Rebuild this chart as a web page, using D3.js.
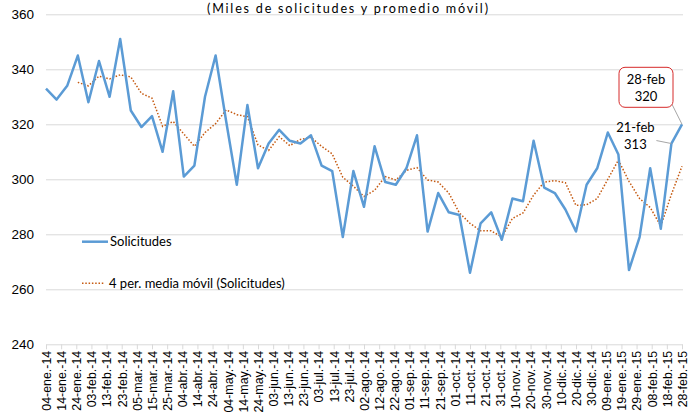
<!DOCTYPE html>
<head>
<meta charset="utf-8">
<script src="https://d3js.org/d3.v7.min.js"></script>
<style>
body {
  margin: 0;
  background: #fff;
}
svg {
  font-family: Lato, "Liberation Sans", sans-serif;
}
.grid--y path,
.grid--y text {
  display: none;
}
.grid--y line {
  stroke: #d9d9d9;
}
.axis--y path {
  display: none;
}
.axis--y text {
  font-size: 13.5px;
  fill: #000;
}
.axis--x path,
.axis--x line {
  stroke: #d9d9d9;
}
.axis--x text {
  font-size: 12.4px;
  fill: #000;
}
.line--sol {
  fill: none;
  stroke: #5b9bd5;
  stroke-width: 2.5;
  stroke-linejoin: round;
}
.line--ma {
  fill: none;
  stroke: #c55a11;
  stroke-width: 1.5;
  stroke-dasharray: 1.5,1.8;
}
.lbl {
  font-size: 13px;
  fill: #000;
}
</style>
</head>
<body>
<div id="chart"></div>
<script>

// weekly data, first week 04-ene-14
let startDate = new Date(2014, 0, 4);
let solicitudes = [333, 329, 334, 345, 328, 343, 330, 351, 325, 319, 323, 310, 332, 301, 305, 330,
  345, 321, 298, 327, 304, 313, 318, 314, 313, 316, 305, 303, 279, 303, 290, 312, 299, 298, 304, 316,
  281, 295, 288, 287, 266, 284, 288, 278, 293, 292, 314, 297, 295, 289, 281, 298, 304, 317, 309, 267,
  279, 304, 282, 313, 320];
let maPeriod = 4;
let meses = ["ene", "feb", "mar", "abr", "may", "jun", "jul", "ago", "sep", "oct", "nov", "dic"];
let yTicks = [240, 260, 280, 300, 320, 340, 360];
let tickStepDays = 10;
let labelled = [59, 60]; // 21-feb and 28-feb
let titulo = "(Miles de solicitudes y promedio móvil)";
let legendNames = ["Solicitudes", "4 per. media móvil (Solicitudes)"];

let data = solicitudes.map(function(v, i) {
  return {date: d3.timeDay.offset(startDate, 7 * i), value: v, i: i};
});
let endDate = data[data.length - 1].date;

// 4 period moving average (Excel trendline)
let ma = data.slice(maPeriod - 1).map(function(d) {
  return {date: d.date, value: d3.mean(solicitudes.slice(d.i - maPeriod + 1, d.i + 1))};
});

let tickDates = d3.range(0, d3.timeDay.count(startDate, endDate) + 1, tickStepDays)
  .map(function(n) { return d3.timeDay.offset(startDate, n); });

let fmtTick = function(d) {
  return d3.timeFormat("%d")(d) + "-" + meses[d.getMonth()] + ".-" + d3.timeFormat("%y")(d);
};
let fmtLabel = function(d) {
  return d3.timeFormat("%d")(d) + "-" + meses[d.getMonth()];
};

let margin = {top: 14.3, right: 17, bottom: 67.7, left: 46},
    width = 699 - margin.left - margin.right,
    height = 412 - margin.top - margin.bottom;

let svg = d3.select("#chart").append("svg")
    .attr("width", 699)
    .attr("height", 412);

let g = svg.append("g")
    .attr("transform", "translate(" + margin.left + "," + margin.top + ")");

let x = d3.scaleTime().domain([startDate, endDate]).range([0, width]),
    y = d3.scaleLinear().domain([240, 360]).range([height, 0]);

g.append("g")
    .attr("class", "grid--y")
    .call(d3.axisLeft(y).tickValues(yTicks.slice(1)).tickSize(-width - 1));

g.append("g")
    .attr("class", "axis--y")
    .call(d3.axisLeft(y).tickValues(yTicks).tickSize(0).tickPadding(12));

g.append("g")
    .attr("class", "axis--x")
    .attr("transform", "translate(0," + height + ")")
    .call(d3.axisBottom(x).tickValues(tickDates).tickFormat(fmtTick).tickSize(5).tickSizeOuter(0))
  .selectAll("text")
    .attr("transform", "rotate(-90)")
    .attr("text-anchor", "end")
    .attr("x", -6.5)
    .attr("y", 0)
    .attr("dy", "0.35em");

// title, right at the top edge
svg.append("text")
    .attr("x", 347.5)
    .attr("y", 12.6)
    .attr("text-anchor", "middle")
    .attr("textLength", 281)
    .attr("lengthAdjust", "spacing")
    .style("font-size", "12.6px")
    .text(titulo);

let lineGen = d3.line()
    .x(function(d) { return x(d.date); })
    .y(function(d) { return y(d.value); });

g.append("path")
    .datum(ma)
    .attr("class", "line--ma")
    .attr("d", lineGen);

g.append("path")
    .datum(data)
    .attr("class", "line--sol")
    .attr("d", lineGen);

// data labels
let offsets = {59: {dx: -36, dy: -8, box: false, lx: -15, ly: -3},
               60: {dx: -36, dy: -37, box: true, lx: -14, ly: -28}};

labelled.forEach(function(i) {
  let d = data[i], o = offsets[i];
  let px = x(d.date), py = y(d.value);
  let cx = px + o.dx, cy = py + o.dy;
  g.append("line")
      .attr("x1", px + o.lx).attr("y1", py + o.ly)
      .attr("x2", px).attr("y2", py)
      .attr("stroke", "#a6a6a6")
      .attr("stroke-width", 1);
  if (o.box) {
    g.append("rect")
        .attr("x", cx - 27).attr("y", cy - 20)
        .attr("width", 54).attr("height", 40)
        .attr("rx", 6)
        .attr("fill", "#fff")
        .attr("stroke", "#d62a2a")
        .attr("stroke-width", 1);
  }
  let t = g.append("text")
      .attr("class", "lbl")
      .attr("text-anchor", "middle")
      .attr("x", cx)
      .attr("y", cy);
  t.append("tspan").attr("x", cx).attr("dy", "-0.25em").text(fmtLabel(d.date));
  t.append("tspan").attr("x", cx).attr("dy", "1.3em").text(d.value);
});

// legend
let legend = svg.append("g")
  .selectAll("g")
    .data(legendNames)
  .enter().append("g")
    .attr("transform", function(d, i) { return "translate(82," + (241.7 + i * 41.6) + ")"; });

legend.append("line")
    .attr("x1", 0).attr("x2", function(d, i) { return i ? 23 : 26; })
    .attr("class", function(d, i) { return i ? "line--ma" : "line--sol"; });

legend.append("text")
    .attr("class", "lbl")
    .attr("x", function(d, i) { return i ? 27 : 28; })
    .attr("dy", "0.35em")
    .text(function(d) { return d; });

</script>
</body>
